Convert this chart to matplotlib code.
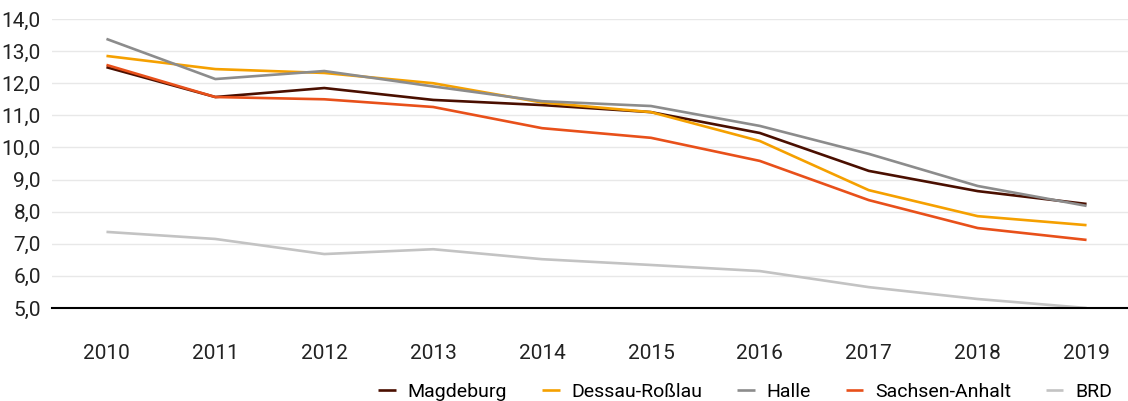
import matplotlib.pyplot as plt
from matplotlib import font_manager

years = [2010, 2011, 2012, 2013, 2014, 2015, 2016, 2017, 2018, 2019]
magdeburg = [12.50, 11.57, 11.85, 11.48, 11.32, 11.10, 10.45, 9.27, 8.64, 8.24]
dessau = [12.85, 12.44, 12.32, 12.00, 11.40, 11.10, 10.20, 8.67, 7.86, 7.58]
halle = [13.38, 12.13, 12.38, 11.90, 11.44, 11.29, 10.67, 9.80, 8.80, 8.18]
sachsen_anhalt = [12.57, 11.57, 11.50, 11.26, 10.60, 10.30, 9.58, 8.36, 7.49, 7.12]
brd = [7.37, 7.15, 6.68, 6.83, 6.52, 6.34, 6.15, 5.65, 5.28, 5.00]

names = ['Magdeburg', 'Dessau-Roßlau', 'Halle', 'Sachsen-Anhalt', 'BRD']
colors = ['#4a0f00', '#f5a000', '#8c8c8c', '#e8501a', '#c3c3c3']

installed = {f.name for f in font_manager.fontManager.ttflist}
fam = 'Liberation Sans Narrow' if 'Liberation Sans Narrow' in installed else 'Roboto'
plt.rcParams['font.family'] = [fam, 'DejaVu Sans']

fig = plt.figure(figsize=(11.28, 4.01), dpi=100)
ax = fig.add_axes([52 / 1128, 1 - 308 / 401, (1141 - 52) / 1128, (308 - 19) / 401])

for vals, name, c in zip([magdeburg, dessau, halle, sachsen_anhalt, brd], names, colors):
    ax.plot(years, vals, color=c, linewidth=1.9, label=name, solid_capstyle='butt')

ax.set_xlim(2009.5, 2019.5)
ax.set_ylim(5, 14)
ax.set_xticks(years)
ax.set_xticklabels([str(y) for y in years])
ax.set_yticks(range(5, 15))
ax.set_yticklabels([f'{v},0' for v in range(5, 15)])
ax.grid(axis='y', color='#e8e8e8', linewidth=1.0)
ax.set_axisbelow(True)
for s in ['top', 'right', 'left']:
    ax.spines[s].set_visible(False)
ax.spines['bottom'].set_color('black')
ax.spines['bottom'].set_linewidth(1.5)
ax.tick_params(axis='both', length=0, labelsize=15, colors='#222222')
ax.tick_params(axis='x', pad=26)
ax.tick_params(axis='y', pad=8)

fig.legend(loc='center right', bbox_to_anchor=(1112 / 1128, 1 - 392 / 401), ncol=5, frameon=False,
           fontsize=14, handlelength=0.9, handletextpad=0.6, columnspacing=1.8,
           borderaxespad=0, borderpad=0)

fig.savefig('out.png', dpi=100)
